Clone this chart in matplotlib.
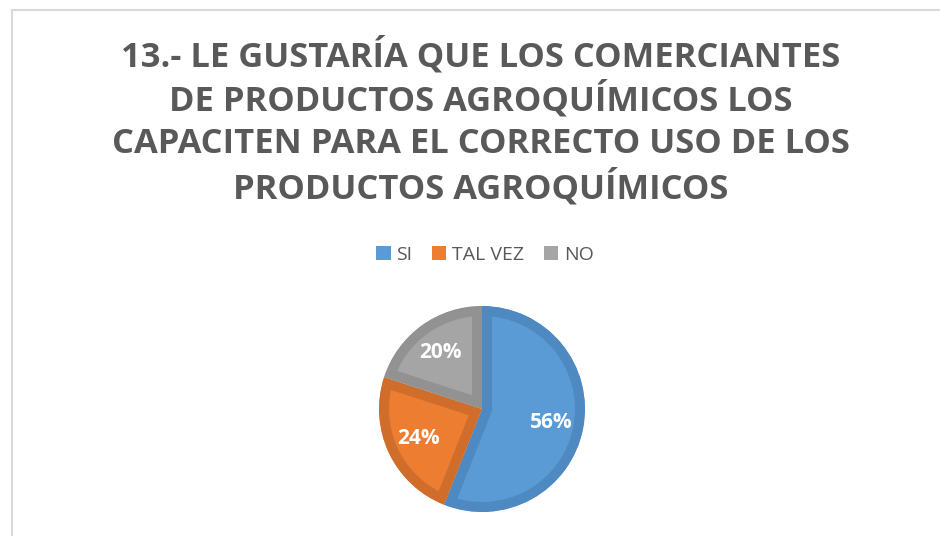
import matplotlib
matplotlib.use("Agg")
import matplotlib.pyplot as plt
from matplotlib.patches import Patch, Wedge
from matplotlib.lines import Line2D

# data
labels = ["SI", "TAL VEZ", "NO"]
values = [56, 24, 20]
face_colors = ["#5B9BD5", "#ED7D31", "#A5A5A5"]
edge_colors = ["#4F89C2", "#D06D2B", "#929292"]

title_lines = [
    "13.- LE GUSTARÍA QUE LOS COMERCIANTES",
    "DE PRODUCTOS AGROQUÍMICOS LOS",
    "CAPACITEN PARA EL CORRECTO USO DE LOS",
    "PRODUCTOS AGROQUÍMICOS",
]

W, H = 940, 536
fig = plt.figure(figsize=(W / 100, H / 100), dpi=100)
fig.patch.set_facecolor("white")

# chart area border (left and top only visible)
fig.add_artist(Line2D([11.5 / W, 11.5 / W], [0, 1 - 9.5 / H], transform=fig.transFigure,
                      color="#D9D9D9", lw=1.5))
fig.add_artist(Line2D([11.5 / W, 1], [1 - 9.5 / H, 1 - 9.5 / H], transform=fig.transFigure,
                      color="#D9D9D9", lw=1.5))

# title
title_y = [56, 100, 144, 188]
for line, y in zip(title_lines, title_y):
    fig.text(481 / W, 1 - y / H, line, ha="center", va="center", fontsize=24.8,
             fontweight="bold", color="#595959", family="Open Sans")

# pie
cx, cy, r = 482, 409, 103
ax = fig.add_axes([(cx - r) / W, 1 - (cy + r) / H, 2 * r / W, 2 * r / H])
band_px = 10  # visible darker band inside each slice
wedges, texts, autotexts = ax.pie(
    values, colors=face_colors, startangle=90, counterclock=False,
    radius=1, autopct="%1.0f%%", pctdistance=0.68,
    wedgeprops=dict(linewidth=2 * band_px * 0.72, joinstyle="miter"),
    textprops=dict(color="white", fontsize=15, fontweight="bold", family="Open Sans"),
)
for w, ec in zip(wedges, edge_colors):
    w.set_edgecolor(ec)
    # keep the thick stroke inside the slice
    clip = Wedge(w.center, w.r, w.theta1, w.theta2, transform=ax.transData)
    w.set_clip_on(True)
    w.set_clip_path(clip)
ax.set_xlim(-1, 1)
ax.set_ylim(-1, 1)
ax.set_aspect("equal")
ax.axis("off")

# legend
handles = [Patch(facecolor=c, edgecolor="none") for c in face_colors]
fig.legend(handles, labels, loc="center", bbox_to_anchor=(485 / W, 1 - 255 / H), ncol=3,
           frameon=False, handlelength=0.75, handleheight=0.75, handletextpad=0.3,
           columnspacing=1.0, prop=dict(family="Open Sans", size=14),
           labelcolor="#595959")

fig.savefig("out.png", dpi=100)
